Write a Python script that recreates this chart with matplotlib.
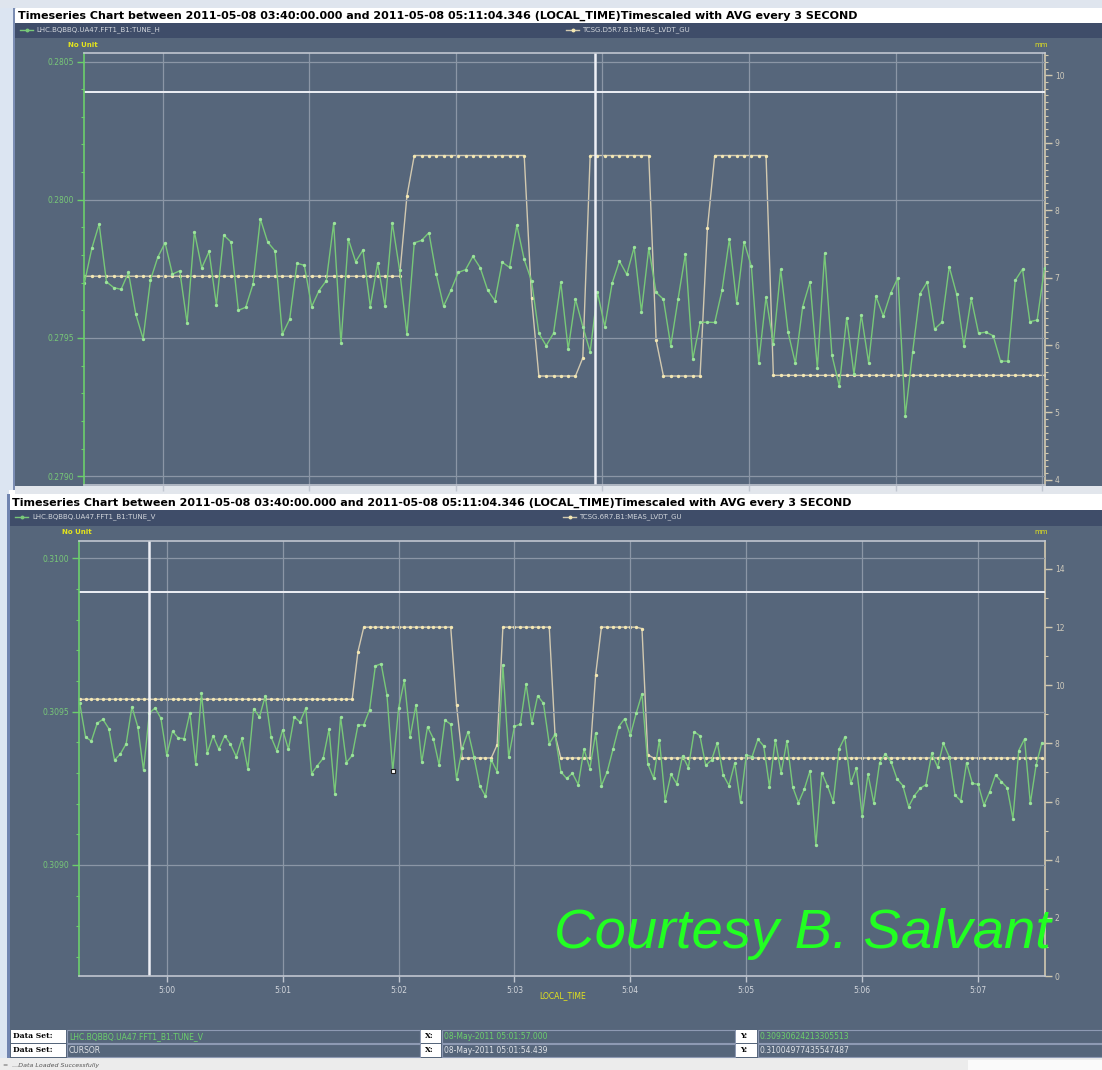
import numpy as np
import matplotlib
matplotlib.use("Agg")
import matplotlib.pyplot as plt
from matplotlib.patches import Rectangle
from matplotlib.lines import Line2D
from matplotlib.ticker import MultipleLocator, FuncFormatter

W, H = 1102, 1070

# time axis: seconds relative to 05:00:00, one averaged point every 3 s
step = 3
top_start = -32
bot_start = -45

# top panel: tune H (left axis) and TCSG.D5R7 jaw position in mm (right axis)
tune_h = [
    0.279700, 0.279824, 0.279912, 0.279703, 0.279682, 0.279676, 0.279737, 0.279586, 0.279497, 0.279709,
    0.279792, 0.279844, 0.279731, 0.279743, 0.279554, 0.279884, 0.279753, 0.279813, 0.279619, 0.279872,
    0.279847, 0.279600, 0.279611, 0.279695, 0.279931, 0.279847, 0.279815, 0.279513, 0.279568, 0.279770,
    0.279763, 0.279613, 0.279671, 0.279707, 0.279915, 0.279480, 0.279858, 0.279776, 0.279818, 0.279613,
    0.279771, 0.279615, 0.279917, 0.279746, 0.279513, 0.279844, 0.279853, 0.279881, 0.279731, 0.279615,
    0.279672, 0.279737, 0.279747, 0.279795, 0.279754, 0.279674, 0.279635, 0.279774, 0.279755, 0.279908,
    0.279784, 0.279707, 0.279517, 0.279472, 0.279517, 0.279701, 0.279459, 0.279640, 0.279541, 0.279450,
    0.279665, 0.279541, 0.279698, 0.279778, 0.279730, 0.279828, 0.279595, 0.279825, 0.279665, 0.279640,
    0.279472, 0.279641, 0.279804, 0.279423, 0.279556, 0.279557, 0.279556, 0.279673, 0.279858, 0.279625,
    0.279848, 0.279759, 0.279410, 0.279648, 0.279478, 0.279748, 0.279522, 0.279408, 0.279613, 0.279703,
    0.279392, 0.279806, 0.279437, 0.279326, 0.279573, 0.279368, 0.279584, 0.279410, 0.279651, 0.279579,
    0.279661, 0.279718, 0.279219, 0.279448, 0.279659, 0.279703, 0.279532, 0.279557, 0.279758, 0.279659,
    0.279472, 0.279643, 0.279517, 0.279521, 0.279508, 0.279416, 0.279416, 0.279708, 0.279749, 0.279559,
    0.279565, 0.279753,
]
lvdt_d5r7 = ([7.02] * 44 + [8.21] + [8.81] * 16 + [6.70] + [5.54] * 6 + [5.81]
             + [8.81] * 9 + [6.07] + [5.54] * 6 + [7.73] + [8.81] * 8 + [5.55] * 38)

# bottom panel: tune V and TCSG.6R7 jaw position
tune_v = [
    0.309527, 0.309417, 0.309404, 0.309462, 0.309475, 0.309445, 0.309342, 0.309362, 0.309395, 0.309516,
    0.309451, 0.309309, 0.309495, 0.309512, 0.309478, 0.309358, 0.309436, 0.309414, 0.309412, 0.309496,
    0.309330, 0.309560, 0.309365, 0.309421, 0.309377, 0.309421, 0.309394, 0.309353, 0.309413, 0.309313,
    0.309510, 0.309482, 0.309551, 0.309418, 0.309372, 0.309441, 0.309377, 0.309483, 0.309466, 0.309511,
    0.309298, 0.309324, 0.309348, 0.309443, 0.309232, 0.309482, 0.309334, 0.309357, 0.309456, 0.309457,
    0.309506, 0.309649, 0.309656, 0.309554, 0.309306, 0.309511, 0.309602, 0.309417, 0.309522, 0.309335,
    0.309451, 0.309412, 0.309326, 0.309472, 0.309459, 0.309281, 0.309381, 0.309435, 0.309353, 0.309259,
    0.309224, 0.309343, 0.309304, 0.309652, 0.309352, 0.309452, 0.309459, 0.309590, 0.309462, 0.309552,
    0.309527, 0.309395, 0.309426, 0.309304, 0.309282, 0.309299, 0.309262, 0.309378, 0.309314, 0.309430,
    0.309258, 0.309304, 0.309377, 0.309451, 0.309477, 0.309423, 0.309495, 0.309558, 0.309330, 0.309283,
    0.309409, 0.309210, 0.309296, 0.309265, 0.309356, 0.309317, 0.309435, 0.309421, 0.309325, 0.309342,
    0.309399, 0.309294, 0.309259, 0.309332, 0.309205, 0.309359, 0.309353, 0.309410, 0.309388, 0.309255,
    0.309408, 0.309299, 0.309404, 0.309255, 0.309203, 0.309247, 0.309308, 0.309065, 0.309301, 0.309258,
    0.309206, 0.309378, 0.309417, 0.309266, 0.309317, 0.309161, 0.309296, 0.309201, 0.309334, 0.309362,
    0.309335, 0.309281, 0.309259, 0.309190, 0.309226, 0.309250, 0.309262, 0.309364, 0.309319, 0.309397,
    0.309353, 0.309228, 0.309209, 0.309334, 0.309266, 0.309263, 0.309195, 0.309239, 0.309294, 0.309272,
    0.309252, 0.309151, 0.309373, 0.309411, 0.309201, 0.309326, 0.309399,
]
lvdt_6r7 = ([9.52] * 48 + [11.16] + [12.0] * 16 + [9.32] + [7.5] * 6 + [7.95]
            + [12.0] * 9 + [8.29] + [7.5] * 6 + [10.35] + [12.0] * 7 + [11.95] + [7.61] + [7.5] * 68)

cursor_idx = 54  # selected point on TUNE_V

title = ("Timeseries Chart between 2011-05-08 03:40:00.000 and 2011-05-08 05:11:04.346 "
         "(LOCAL_TIME)Timescaled with AVG every 3 SECOND")

PANEL = '#56667b'
BAR = '#3f4d69'
GREEN = '#78c878'
GREEN_AX = '#6ccf6c'
BEIGE = '#d2c9b0'
BEIGE_DOT = '#f3e7b2'
GRID = '#8b96a6'
BORDER = '#c0c6d0'
YELLOW = '#e4e41c'
LIGHT = '#d2d6dc'

fig = plt.figure(figsize=(W / 100, H / 100), dpi=100)
fig.patch.set_facecolor('white')


def fbox(x0, y0, x1, y1):
    return [x0 / W, 1 - y1 / H, (x1 - x0) / W, (y1 - y0) / H]


def rect(x0, y0, x1, y1, fc, ec='none', lw=0, z=-5):
    fig.add_artist(Rectangle((x0 / W, 1 - y1 / H), (x1 - x0) / W, (y1 - y0) / H,
                             transform=fig.transFigure, fc=fc, ec=ec, lw=lw, zorder=z))


def txt(x, y, s, **kw):
    kw.setdefault('va', 'center')
    kw.setdefault('fontsize', 5.5)
    fig.text(x / W, 1 - y / H, s, **kw)


def legend_mark(x, y, color, dot):
    fig.add_artist(Line2D([x / W, (x + 13) / W], [1 - y / H, 1 - y / H], transform=fig.transFigure,
                          color=color, lw=1))
    fig.add_artist(Line2D([(x + 6.5) / W], [1 - y / H], transform=fig.transFigure,
                          marker='o', ms=1.8, color=dot, lw=0))


# window chrome
rect(0, 0, W, H, '#ffffff', z=-10)
rect(0, 0, 16, 490, '#dce5f2', z=-9)
rect(0, 490, 9, H, '#dce5f2', z=-9)
rect(13, 8, 15, 490, '#7b8db3', z=-8)
rect(7, 494, 10, 1058, '#7084b0', z=-8)
rect(0, 0, W, 8, '#dfe5ee', z=-9)

# top window
rect(15, 9, W, 23, '#ffffff', z=-7)
rect(15, 23, W, 38, BAR, z=-7)
rect(15, 38, W, 490, PANEL, z=-7)
rect(15, 486, W, 494, '#e2e6ec', z=-6)

# bottom window
rect(10, 494, W, 510, '#ffffff', z=-7)
rect(10, 510, W, 526, BAR, z=-7)
rect(10, 526, W, 1058, PANEL, z=-7)
rect(0, 1058, W, H, '#ececec', z=-7)
rect(968, 1060, W, H, '#fafafa', z=-6)

txt(18, 16, title, fontweight='bold', fontsize=8.0, color='black')
txt(12, 503, title, fontweight='bold', fontsize=8.0, color='black')

legend_mark(20, 30, GREEN, GREEN)
txt(36, 30, 'LHC.BQBBQ.UA47.FFT1_B1:TUNE_H', color=LIGHT, fontsize=5)
legend_mark(566, 30, BEIGE, BEIGE_DOT)
txt(582, 30, 'TCSG.D5R7.B1:MEAS_LVDT_GU', color=LIGHT, fontsize=5)
legend_mark(15, 517, GREEN, GREEN)
txt(32, 517, 'LHC.BQBBQ.UA47.FFT1_B1:TUNE_V', color=LIGHT, fontsize=5)
legend_mark(563, 517, BEIGE, BEIGE_DOT)
txt(579, 517, 'TCSG.6R7.B1:MEAS_LVDT_GU', color=LIGHT, fontsize=5)

txt(68, 45, 'No Unit', color=YELLOW, fontsize=5, fontweight='bold')
txt(1034, 45, 'mm', color=YELLOW, fontsize=5)
txt(62, 532, 'No Unit', color=YELLOW, fontsize=5, fontweight='bold')
txt(1034, 532, 'mm', color=YELLOW, fontsize=5)


def style(ax, axr, left_major, right_major, right_minor, xlabels):
    ax.set_zorder(2)
    axr.set_zorder(1)
    ax.patch.set_visible(False)
    axr.patch.set_visible(False)
    for s in ['top', 'bottom']:
        ax.spines[s].set_color(BORDER)
        axr.spines[s].set_visible(False)
    ax.spines['right'].set_visible(False)
    axr.spines['left'].set_visible(False)
    ax.spines['left'].set_color(GREEN_AX)
    axr.spines['right'].set_color(BEIGE)
    for sp in list(ax.spines.values()) + list(axr.spines.values()):
        sp.set_linewidth(1.2)

    ax.xaxis.set_major_locator(MultipleLocator(60))
    ax.xaxis.set_major_formatter(FuncFormatter(lambda v, p: '5:%02d' % int(round(v / 60))))
    ax.tick_params(axis='x', colors=BORDER, labelcolor=LIGHT, labelsize=5.5, length=4,
                   width=1, labelbottom=xlabels, pad=3)

    ax.yaxis.set_major_locator(MultipleLocator(left_major))
    ax.yaxis.set_minor_locator(MultipleLocator(0.0001))
    ax.yaxis.set_major_formatter(FuncFormatter(lambda v, p: '%.4f' % v))
    ax.tick_params(axis='y', which='major', colors=GREEN_AX, labelcolor=GREEN,
                   labelsize=5.5, length=5, width=1, pad=2)
    ax.tick_params(axis='y', which='minor', colors=GREEN_AX, length=2.5, width=0.8)

    axr.yaxis.set_major_locator(MultipleLocator(right_major))
    axr.yaxis.set_minor_locator(MultipleLocator(right_minor))
    axr.tick_params(axis='y', which='major', colors=BEIGE, labelcolor='#cfcabb',
                    labelsize=5.5, length=5, width=1, pad=2)
    axr.tick_params(axis='y', which='minor', colors=BEIGE, length=2.5, width=0.8)

    ax.grid(True, color=GRID, lw=0.9)


def draw(ax, axr, t, tune, lvdt):
    axr.plot(t, lvdt, color=BEIGE, lw=1.0, marker='o', ms=1.4, mfc=BEIGE_DOT, mec=BEIGE_DOT)
    ax.plot(t, tune, color=GREEN, lw=1.0, marker='o', ms=1.4, mfc='#9be39b', mec='#9be39b')


# top chart
t_top = top_start + step * np.arange(len(tune_h))
ax1 = fig.add_axes(fbox(84, 53, 1045, 485))
ax1r = ax1.twinx()
draw(ax1, ax1r, t_top, tune_h, lvdt_d5r7)
ax1.set_xlim(-32.2, 361.2)
ax1.set_ylim(0.278968, 0.280531)
ax1r.set_ylim(3.924, 10.33)
style(ax1, ax1r, 0.0005, 1, 0.1, False)
ax1.axvline(177, color='#eef0f6', lw=1.8)
ax1.axhline(0.280389, color='#eef0f6', lw=1.4)

# bottom chart
t_bot = bot_start + step * np.arange(len(tune_v))
ax2 = fig.add_axes(fbox(79, 540.5, 1045, 976))
ax2r = ax2.twinx()
draw(ax2, ax2r, t_bot, tune_v, lvdt_6r7)
ax2.set_xlim(-45.4, 454.6)
ax2.set_ylim(0.308638, 0.310058)
ax2r.set_ylim(0, 14.98)
style(ax2, ax2r, 0.0005, 2, 1, True)
ax2.axvline(-9.3, color='#eef0f6', lw=1.8)
ax2.axhline(0.30989, color='#eef0f6', lw=1.4)
ax2.plot([t_bot[cursor_idx]], [tune_v[cursor_idx]], marker='s', ms=3.5, mfc='white',
         mec='#222222', mew=0.8, zorder=5)

txt(563, 996, 'LOCAL_TIME', color=YELLOW, fontsize=5.5, ha='center')

# data set readout rows
rows = [
    (1036.5, 'LHC.BQBBQ.UA47.FFT1_B1:TUNE_V', '08-May-2011 05:01:57.000', '0.30930624213305513', '#6cd06c'),
    (1050.5, 'CURSOR', '08-May-2011 05:01:54.439', '0.31004977435547487', '#e0e3e8'),
]
for yc, name, xs, ys, col in rows:
    y0, y1 = yc - 6.5, yc + 6.5
    rect(11, y0, 66, y1, '#ffffff', z=-4)
    rect(67, y0, 420, y1, PANEL, ec='#8e9ab3', lw=0.8, z=-4)
    rect(421, y0, 441, y1, '#ffffff', z=-4)
    rect(442, y0, 735, y1, PANEL, ec='#8e9ab3', lw=0.8, z=-4)
    rect(736, y0, 757, y1, '#ffffff', z=-4)
    rect(758, y0, W, y1, PANEL, ec='#8e9ab3', lw=0.8, z=-4)
    txt(13, yc, 'Data Set:', fontweight='bold', fontsize=5.5, color='black', family='DejaVu Serif')
    txt(69, yc, name, color=col, fontsize=5.5)
    txt(425, yc, 'X:', fontweight='bold', fontsize=5.5, color='black', family='DejaVu Serif')
    txt(444, yc, xs, color=col, fontsize=5.5)
    txt(740, yc, 'Y:', fontweight='bold', fontsize=5.5, color='black', family='DejaVu Serif')
    txt(760, yc, ys, color=col, fontsize=5.5)

txt(3, 1066, '=  ...Data Loaded Successfully', fontsize=4.5, style='italic', color='#555555')

txt(554, 948, 'Courtesy B. Salvant', color='#22ff22', fontsize=40.5, style='italic',
    family='Liberation Sans', va='baseline', zorder=10)

fig.savefig('out.png', dpi=100)
